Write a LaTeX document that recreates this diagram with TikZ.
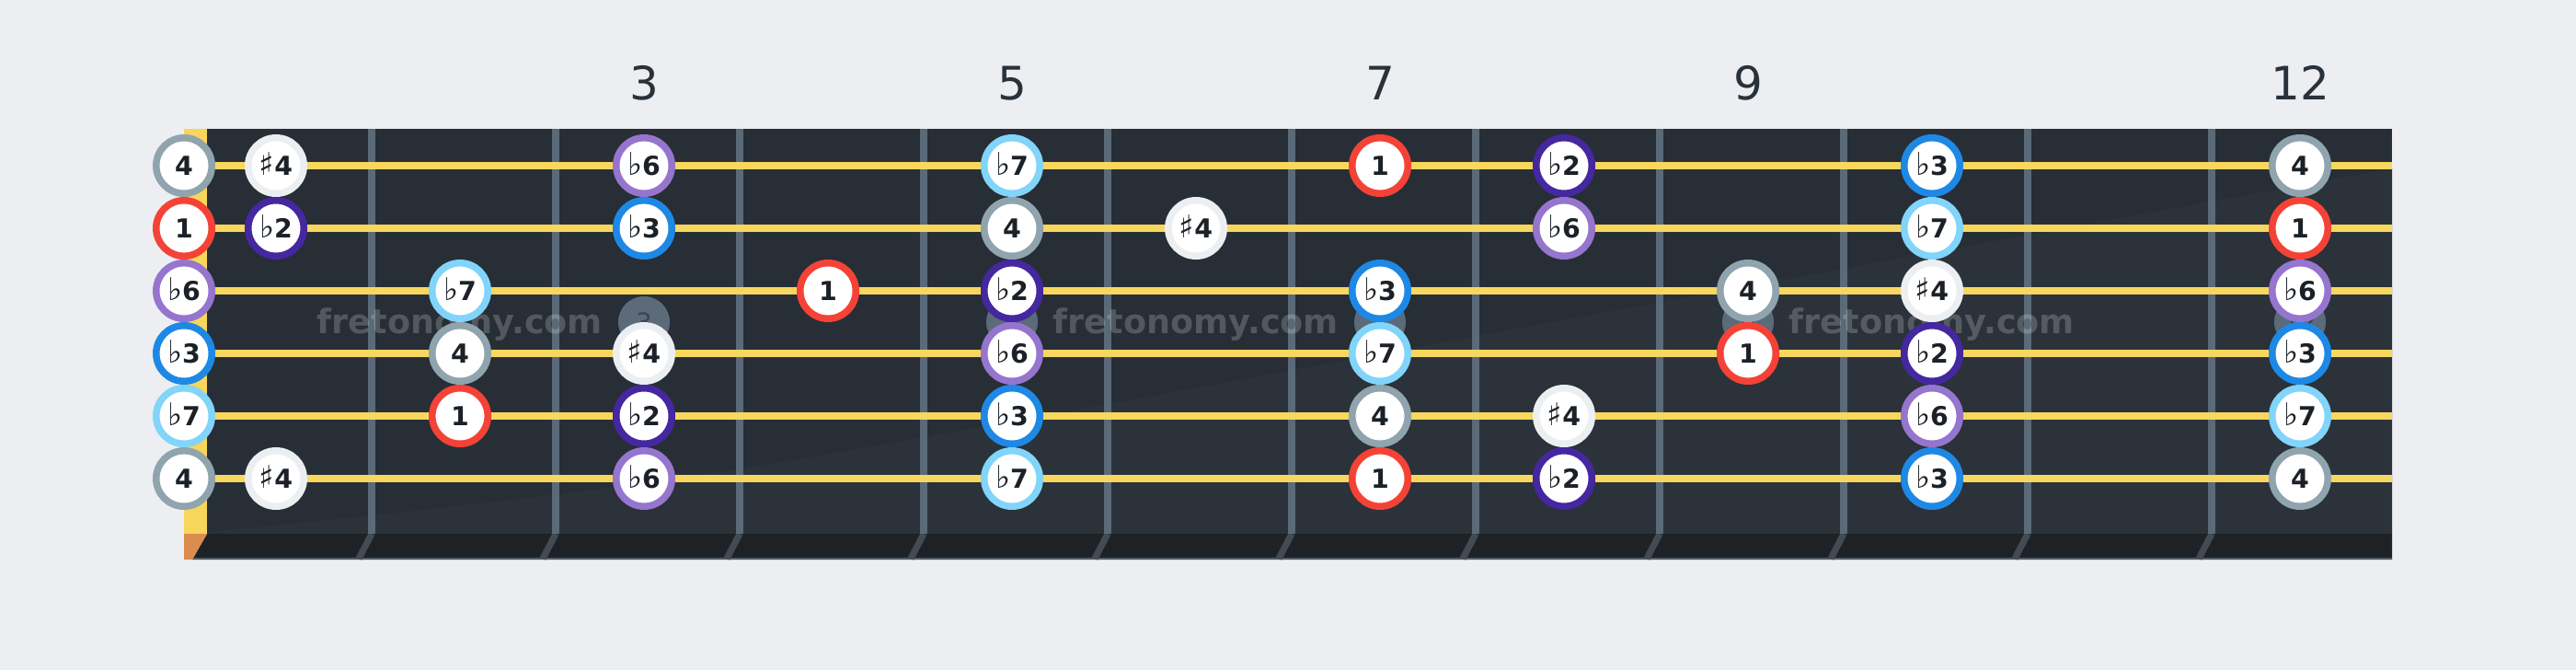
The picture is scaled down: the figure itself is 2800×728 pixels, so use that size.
\documentclass[tikz,border=0pt]{standalone}
\usepackage{fontspec}
\setmainfont{DejaVu Sans}
\definecolor{bg}{HTML}{ECEEF1}
\definecolor{board}{HTML}{282E36}
\definecolor{boardlight}{HTML}{2B323A}
\definecolor{strip}{HTML}{1E2227}
\definecolor{stripline}{HTML}{4E5A66}
\definecolor{stripfretc}{HTML}{454B53}
\definecolor{fretc}{HTML}{5A6A79}
\definecolor{stringc}{HTML}{F8D75E}
\definecolor{nutc}{HTML}{F7D65C}
\definecolor{nutbottom}{HTML}{DC8C4C}
\definecolor{inlayc}{HTML}{5B6B79}
\definecolor{inlaytext}{HTML}{3B4651}
\definecolor{numc}{HTML}{29313A}
\definecolor{ink}{HTML}{1B2127}
\definecolor{ring1}{HTML}{F44336}
\definecolor{ringb2}{HTML}{4527A0}
\definecolor{ringb3}{HTML}{1E88E5}
\definecolor{ring4}{HTML}{90A4AE}
\definecolor{rings4}{HTML}{ECEFF1}
\definecolor{ringb6}{HTML}{9575CD}
\definecolor{ringb7}{HTML}{81D4FA}
\newcommand\myflat{{\mdseries\fontsize{17}{18}\selectfont ♭}}
\newcommand\mysharp{{\mdseries\fontsize{17}{18}\selectfont ♯}}
\expandafter\def\csname lab1\endcsname{1}
\expandafter\def\csname labb2\endcsname{\myflat2}
\expandafter\def\csname labb3\endcsname{\myflat3}
\expandafter\def\csname lab4\endcsname{4}
\expandafter\def\csname labs4\endcsname{\mysharp4}
\expandafter\def\csname labb6\endcsname{\myflat6}
\expandafter\def\csname labb7\endcsname{\myflat7}
\tikzset{
  note/.style={circle, fill=white, draw=#1, line width=3.75pt, minimum size=30.25pt,
    inner sep=0pt, text=ink, font=\fontsize{14.2}{16}\selectfont\bfseries,
    text height=10.35pt, text depth=0pt},
  inlay/.style={circle, fill=inlayc, minimum size=28pt, inner sep=0pt, text=inlaytext,
    font=\fontsize{14}{16}\selectfont, text height=10.2pt, text depth=0pt},
  fretnum/.style={anchor=base, text=numc, font=\fontsize{25}{30}\selectfont, inner sep=0pt},
  wm/.style={anchor=base, text=white, text opacity=0.2, inner sep=0pt,
    font=\fontsize{18.3}{20}\selectfont\bfseries},
  fretline/.style={draw=fretc, line width=4pt},
  stringline/.style={draw=stringc, line width=4pt},
  stripfret/.style={draw=stripfretc, line width=3.5pt},
}
\begin{document}
\begin{tikzpicture}[x=0.5pt,y=-0.5pt]
\useasboundingbox (0,0) rectangle (2800,728);
\fill[bg] (0,0) rectangle (2800,728);
% board
\fill[board] (225,140) rectangle (2600,580);
\fill[boardlight] (225,580) -- plot[smooth] coordinates {(225,578) (800,510) (1850,320) (2600,183)} -- (2600,580) -- cycle;
% bottom strip
\fill[strip] (225,580) -- (2600,580) -- (2600,608) -- (209,608) -- cycle;
\draw[stripline, line width=1pt] (209,607) -- (2600,607);
\foreach \k in {1,...,11} \draw[stripfret] ({204+200*\k},580) -- ({190+200*\k},607);
% nut
\fill[nutc] (200,140) rectangle (225,580);
\fill[nutbottom] (200,580) -- (225,580) -- (209,608) -- (200,608) -- cycle;
% frets
\foreach \k in {1,...,11} \draw[fretline] ({204+200*\k},140) -- ({204+200*\k},580);
% inlays
\foreach \f in {3,5,7,9,12} \node[inlay] (dot\f) at ({100+200*\f},350) {\f};
% watermark
\foreach \i/\x in {1/500,2/1300,3/2100} \node[wm] (wm\i) at (\x,362) {fretonomy.com};
% strings
\foreach \s in {1,...,6} \draw[stringline] (225,{112+68*\s}) -- (2600,{112+68*\s});
% fret numbers
\foreach \f in {3,5,7,9,12} \node[fretnum] (num\f) at ({100+200*\f},108) {\f};
% notes
\foreach \s/\f/\d in {
  1/0/4, 1/1/s4, 1/3/b6, 1/5/b7, 1/7/1, 1/8/b2, 1/10/b3, 1/12/4,
  2/0/1, 2/1/b2, 2/3/b3, 2/5/4, 2/6/s4, 2/8/b6, 2/10/b7, 2/12/1,
  3/0/b6, 3/2/b7, 3/4/1, 3/5/b2, 3/7/b3, 3/9/4, 3/10/s4, 3/12/b6,
  4/0/b3, 4/2/4, 4/3/s4, 4/5/b6, 4/7/b7, 4/9/1, 4/10/b2, 4/12/b3,
  5/0/b7, 5/2/1, 5/3/b2, 5/5/b3, 5/7/4, 5/8/s4, 5/10/b6, 5/12/b7,
  6/0/4, 6/1/s4, 6/3/b6, 6/5/b7, 6/7/1, 6/8/b2, 6/10/b3, 6/12/4}
{
  \pgfmathtruncatemacro\xx{\f==0 ? 200 : 100+200*\f}
  \pgfmathtruncatemacro\yy{112+68*\s}
  \node[note=ring\d] (n\s-\f) at (\xx,\yy) {\csname lab\d\endcsname};
}
\end{tikzpicture}
\end{document}
